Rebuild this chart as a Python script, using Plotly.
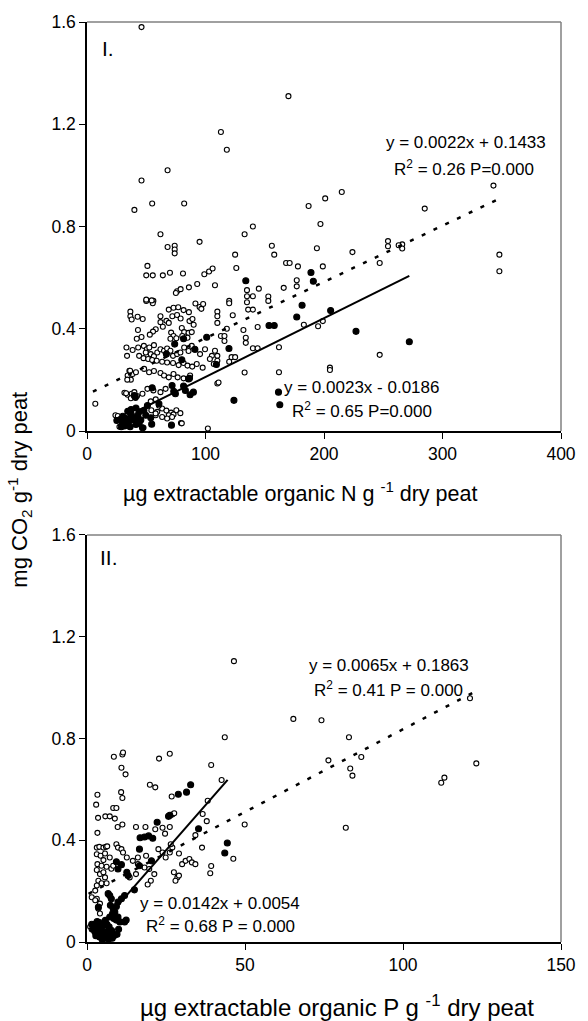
import plotly.graph_objects as go

# ---------------- DATA ----------------
# Panel I : extractable organic N (x) vs CO2 (y)
N_open = [
 (46,1.58),(170,1.31),(113,1.17),(118,1.10),(68,1.02),(46,0.98),(55,0.89),(82,0.89),(40,0.865),(62,0.77),
 (68,0.72),(74,0.725),(74,0.71),(74,0.695),(95,0.74),(133,0.77),(140,0.80),(125,0.69),(156,0.725),(158,0.69),
 (343,0.96),(187,0.88),(201,0.91),(215,0.935),(197,0.81),(285,0.87),(194,0.715),(224,0.70),(254,0.743),(254,0.723),
 (266,0.73),(266,0.714),(263,0.727),(348,0.69),(348,0.625),(247,0.657),(168,0.657),(171,0.657),(178,0.644),(199,0.644),
 (177,0.59),(177,0.566),(166,0.56),(183,0.416),(195,0.41),(199,0.43),(247,0.298),(205,0.248),(205,0.239),(162,0.328),
 (162,0.23),(126,0.638),(145,0.557),(135,0.551),(135,0.527),(140,0.527),(135,0.504),(136,0.475),(140,0.475),(120,0.509),
 (120,0.50),(153,0.526),(153,0.509),(123,0.453),(132,0.395),(144,0.407),(134,0.365),(134,0.345),(140,0.324),(144,0.324),
 (110,0.467),(110,0.449),(110,0.423),(113,0.372),(116,0.372),(116,0.352),(118,0.40),(110,0.294),(110,0.275),(122,0.289),
 (125,0.289),(120,0.271),(133,0.229),(110,0.186),(111,0.19),(51,0.646),(50,0.609),(55.5,0.609),(64,0.609),(70,0.619),
 (81,0.616),(99,0.613),(103,0.624),(106,0.636),(76,0.547),(79,0.555),(86,0.562),(93,0.575),(75,0.54),(108,0.57),
 (50,0.509),(56,0.509),(55.5,0.50),(69,0.475),(73,0.482),(77,0.484),(81.5,0.473),(86,0.465),(91.5,0.499),(95,0.485),
 (98,0.497),(96.5,0.478),(36.6,0.467),(36.6,0.449),(37.7,0.436),(42.7,0.447),(47,0.438),(43,0.395),(46,0.368),(42,0.361),
 (62,0.449),(67,0.431),(72,0.449),(69,0.423),(62,0.426),(64,0.408),(58,0.398),(55.7,0.389),(53,0.377),(76,0.454),
 (79,0.44),(86.5,0.43),(89,0.438),(90,0.416),(80,0.403),(82,0.387),(80.4,0.372),(85.7,0.384),(88.4,0.387),(84.8,0.365),
 (71,0.385),(73,0.372),(70.4,0.361),(75.4,0.363),(33.3,0.327),(33.8,0.294),(38.5,0.317),(43.2,0.327),(48,0.333),(50.5,0.32),
 (52.6,0.327),(56.5,0.336),(49.6,0.307),(53.8,0.301),(56.5,0.293),(59.3,0.307),(62,0.32),(65,0.314),(67.6,0.323),(70.4,0.314),
 (72.6,0.294),(76,0.301),(78.8,0.307),(82,0.327),(85.7,0.313),(88.4,0.333),(91.3,0.318),(95.4,0.301),(99.6,0.32),(105.4,0.294),
 (108,0.314),(103.7,0.282),(107,0.262),(44,0.294),(47.7,0.285),(51.6,0.282),(55,0.278),(58.8,0.275),(63.4,0.271),(67.6,0.268),
 (72.6,0.266),(77.3,0.258),(81.5,0.266),(84.8,0.256),(88.8,0.252),(92.6,0.262),(97.6,0.248),(35.8,0.236),(34.3,0.217),(38.5,0.223),
 (41.3,0.23),(48.2,0.243),(52.4,0.23),(56.5,0.235),(62,0.227),(65,0.217),(69,0.21),(73,0.223),(76.5,0.21),(81.5,0.206),
 (87,0.217),(31.6,0.15),(34.3,0.142),(37.7,0.146),(42.2,0.137),(46.8,0.146),(51,0.165),(56,0.159),(62,0.152),(66.3,0.165),
 (54.3,0.081),(59.3,0.075),(63.4,0.088),(67,0.08),(71,0.072),(75.4,0.081),(78.8,0.07),(58,0.062),(63.4,0.055),(69,0.062),
 (73,0.065),(79.3,0.031),(102,0.01),(7,0.107),(24,0.062),(27,0.049),(50,0.514),(54.6,0.511),(26,0.059),(30,0.052),
 (33,0.043),(37,0.043),(27.4,0.017),(47.7,0.013),(33,0.148),(37,0.128),(40,0.152),(41,0.129),(36.4,0.236),(37,0.201),
 (34,0.201),(53.8,0.116),(58,0.124),(60.7,0.1),(71.8,0.055),(67.6,0.049),(57.9,0.069),(80,0.03),
]
N_filled = [
 (134,0.588),(189,0.62),(191,0.586),(181.5,0.492),(177,0.446),(205.6,0.471),(227,0.39),(272,0.349),(161.6,0.152),(162.7,0.103),
 (153.6,0.413),(158,0.413),(119.8,0.323),(109.2,0.26),(124,0.12),(101,0.367),(91,0.32),(67,0.301),(80,0.279),(86.5,0.206),
 (55,0.169),(81.5,0.176),(83,0.159),(71.8,0.178),(73.2,0.155),(74.6,0.146),(87,0.142),(40.7,0.134),(54.6,0.027),(71.3,0.023),
 (25.2,0.041),(30.2,0.058),(34.4,0.077),(37.2,0.084),(41.3,0.09),(44.1,0.075),(38.5,0.052),(35.2,0.036),(31.6,0.02),(28.9,0.017),
 (36.4,0.017),(41.3,0.026),(45.4,0.043),(49.6,0.062),(53.8,0.052),(46.8,0.013),(37.2,0.066),(39.9,0.043),(42.7,0.062),(33,0.049),
 (51,0.1),(60.7,0.107),(85.7,0.204),(39.9,0.139),(89.8,0.152),(81.5,0.361),(74,0.34),(30,0.03),(44,0.03),(48,0.08),
 (28,0.045),(43,0.055),
]
# Panel II : extractable organic P (x) vs CO2 (y)
P_open = [
 (43.6,0.805),(8.5,0.728),(11.2,0.737),(11.4,0.745),(10.9,0.685),(12.2,0.659),(22.8,0.721),(26.2,0.74),(39.3,0.696),(42.6,0.637),
 (19.9,0.618),(21.6,0.608),(26.8,0.572),(10.8,0.589),(11.2,0.566),(3.3,0.579),(2.9,0.54),(8.3,0.527),(9.3,0.527),(3.5,0.488),
 (5.8,0.494),(7.2,0.494),(8.8,0.485),(9.7,0.452),(11.2,0.462),(3.3,0.429),(15.5,0.452),(18.5,0.452),(21.6,0.443),(27,0.501),
 (27.6,0.506),(36.6,0.503),(37.9,0.475),(34.3,0.42),(36.4,0.371),(46.3,0.327),(39.3,0.299),(39,0.27),(3.1,0.371),(3.9,0.374),
 (5.2,0.371),(6,0.374),(6.4,0.376),(3.1,0.345),(4.3,0.339),(5.7,0.348),(7.2,0.332),(5.2,0.322),(3.3,0.306),(4.6,0.3),
 (6.2,0.296),(7.7,0.288),(8.3,0.3),(3.1,0.283),(4.1,0.267),(5.2,0.274),(5.7,0.254),(3.6,0.241),(4.6,0.231),(6.2,0.231),
 (3.1,0.222),(9.3,0.384),(9.8,0.371),(10.9,0.365),(11.4,0.352),(12.6,0.332),(14.5,0.319),(16.1,0.332),(18.7,0.339),(16.1,0.306),
 (18.2,0.293),(19.7,0.287),(21.3,0.267),(20.2,0.241),(19.2,0.226),(15.5,0.267),(13.5,0.254),(22.6,0.365),(23.9,0.352),(24.9,0.332),
 (26.2,0.352),(27,0.371),(29.1,0.348),(26.5,0.384),(27.5,0.274),(28.6,0.254),(28,0.241),(29.1,0.261),(30.1,0.306),(31.2,0.319),
 (32.4,0.326),(33.2,0.313),(34.3,0.306),(23.9,0.449),(26.2,0.452),(24.7,0.426),(38.2,0.555),(1.5,0.176),(3.1,0.17),(4.1,0.151),
 (3.6,0.131),(4.1,0.112),(2.6,0.164),(1,0.06),(1.5,0.049),(2.6,0.073),(3.6,0.079),(46.5,1.104),(65.3,0.877),(121.2,0.958),
 (123.2,0.702),(74.2,0.872),(82.9,0.805),(76.4,0.714),(86.8,0.727),(83.3,0.682),(84,0.654),(113.1,0.646),(112.1,0.626),(81.9,0.449),
 (49.9,0.462),(2.6,0.202),
]
P_filled = [
 (32.8,0.618),(31.5,0.589),(28.9,0.581),(25.8,0.494),(26.2,0.498),(22.2,0.471),(35.3,0.445),(16.8,0.41),(18.2,0.413),(19.5,0.417),
 (20.8,0.408),(16.6,0.365),(44.4,0.389),(43.6,0.35),(20.4,0.319),(10.9,0.304),(9.3,0.315),(9.8,0.287),(12.6,0.274),(13,0.261),
 (16.6,0.3),(15,0.205),(11.9,0.183),(10.9,0.17),(9.8,0.157),(9.3,0.14),(8.3,0.131),(7.4,0.144),(8.8,0.118),(8.1,0.112),
 (7.2,0.098),(8.5,0.092),(9.3,0.086),(10.4,0.079),(11.9,0.079),(9.8,0.098),(12.4,0.086),(6.7,0.19),(7.2,0.183),(1.5,0.07),
 (2.0,0.05),(2.5,0.04),(3.0,0.06),(3.5,0.03),(4.0,0.02),(4.5,0.05),(5.0,0.03),(5.5,0.015),(6.0,0.04),(6.5,0.02),
 (7.0,0.06),(7.5,0.03),(8.0,0.015),(3.2,0.08),(4.2,0.075),(5.2,0.065),(6.3,0.07),(2.8,0.025),(4.8,0.01),(6.8,0.01),
 (7.8,0.045),(8.5,0.025),(5.8,0.085),(9.5,0.03),(3.8,0.045),(10,0.05),(3.6,0.137),(7.7,0.17),
]
# regression lines: (slope, intercept, x_start, x_end)
N_fit_open = (0.0022, 0.1433, 5, 348)
N_fit_filled = (0.0023, -0.0186, 42, 272)
P_fit_open = (0.0065, 0.1863, 0.5, 123)
P_fit_filled = (0.0142, 0.0054, 2, 44.5)

N_xticks = [0, 100, 200, 300, 400]
P_xticks = [0, 50, 100, 150]
y_ticks = [0, 0.4, 0.8, 1.2, 1.6]
y_ticklabels = ["0", "0.4", "0.8", "1.2", "1.6"]

# ---------------- FIGURE ----------------
FONT = "Arial, Liberation Sans, sans-serif"
fig = go.Figure()

def add_points(pts, filled, xa, ya):
    fig.add_trace(go.Scatter(
        x=[p[0] for p in pts], y=[p[1] for p in pts], mode="markers",
        xaxis=xa, yaxis=ya, showlegend=False, cliponaxis=False,
        marker=dict(size=5 if not filled else 6,
                    color="black" if filled else "white",
                    line=dict(color="black", width=1.1))))

def add_fit(fit, dash, width, xa, ya):
    m, b, x0, x1 = fit
    fig.add_trace(go.Scatter(
        x=[x0, x1], y=[m * x0 + b, m * x1 + b], mode="lines",
        xaxis=xa, yaxis=ya, showlegend=False,
        line=dict(color="black", width=width, dash=dash)))

add_points(N_open, False, "x", "y")
add_points(N_filled, True, "x", "y")
add_fit(N_fit_open, "4px,9px", 2.5, "x", "y")
add_fit(N_fit_filled, "solid", 2, "x", "y")

add_points(P_open, False, "x2", "y2")
add_points(P_filled, True, "x2", "y2")
add_fit(P_fit_open, "4px,9px", 2.5, "x2", "y2")
add_fit(P_fit_filled, "solid", 2, "x2", "y2")

axis_common = dict(showline=True, linecolor="black", linewidth=1.5, ticks="outside",
                   ticklen=6, tickwidth=1.2, tickcolor="black", showgrid=False,
                   zeroline=False, tickfont=dict(family=FONT, size=17.5, color="black"),
                   mirror=False)

fig.update_layout(
    width=588, height=1021,
    margin=dict(l=87, r=19, t=13, b=79),
    paper_bgcolor="white", plot_bgcolor="white",
    font=dict(family=FONT, color="black"),
    xaxis=dict(domain=[0, 1], anchor="y", range=[0, 400], tickvals=N_xticks, **axis_common),
    yaxis=dict(domain=[0.5554, 1], anchor="x", range=[0, 1.6], tickvals=y_ticks,
               ticktext=y_ticklabels, **axis_common),
    xaxis2=dict(domain=[0, 1], anchor="y2", range=[0, 150], tickvals=P_xticks, **axis_common),
    yaxis2=dict(domain=[0, 0.4424], anchor="x2", range=[0, 1.6], tickvals=y_ticks,
                ticktext=y_ticklabels, **axis_common),
)

# grey top/right frame lines
for xr, yr in (("x domain", "y domain"), ("x2 domain", "y2 domain")):
    fig.add_shape(type="line", xref=xr, yref=yr, x0=0, x1=1, y0=1, y1=1,
                  line=dict(color="#808080", width=1.5))
    fig.add_shape(type="line", xref=xr, yref=yr, x0=1, x1=1, y0=0, y1=1,
                  line=dict(color="#808080", width=1.5))

def ann(text, x, y, xref, yref, size=17, xanchor="center", angle=0):
    fig.add_annotation(text=text, x=x, y=y, xref=xref, yref=yref, showarrow=False,
                       xanchor=xanchor, yanchor="middle", textangle=angle,
                       font=dict(family=FONT, size=size, color="black"))

ann("I.", 10.8, 1.495, "x", "y", size=21, xanchor="left")
ann("y = 0.0022x + 0.1433", 320, 1.127, "x", "y")
ann("R<sup>2</sup> = 0.26 P=0.000", 318.5, 1.030, "x", "y")
ann("y = 0.0023x - 0.0186", 231.7, 0.172, "x", "y")
ann("R<sup>2</sup> = 0.65 P=0.000", 232, 0.081, "x", "y")

ann("II.", 3.6, 1.51, "x2", "y2", size=21, xanchor="left")
ann("y = 0.0065x + 0.1863", 95.5, 1.086, "x2", "y2")
ann("R<sup>2</sup> = 0.41 P = 0.000", 95.5, 0.994, "x2", "y2")
ann("y = 0.0142x + 0.0054", 42.1, 0.153, "x2", "y2")
ann("R<sup>2</sup> = 0.68 P = 0.000", 42.3, 0.066, "x2", "y2")

ann("µg extractable organic N g <sup>-1</sup> dry peat", 0.450, 0.4887, "paper", "paper", size=21.5)
ann("µg extractable organic P g <sup>-1</sup> dry peat", 0.527, -0.070, "paper", "paper", size=24)
ann("mg CO<sub>2</sub> g<sup>-1</sup> dry peat", -0.143, 0.4919, "paper", "paper", size=22, angle=-90)

fig.write_html("out.html")
